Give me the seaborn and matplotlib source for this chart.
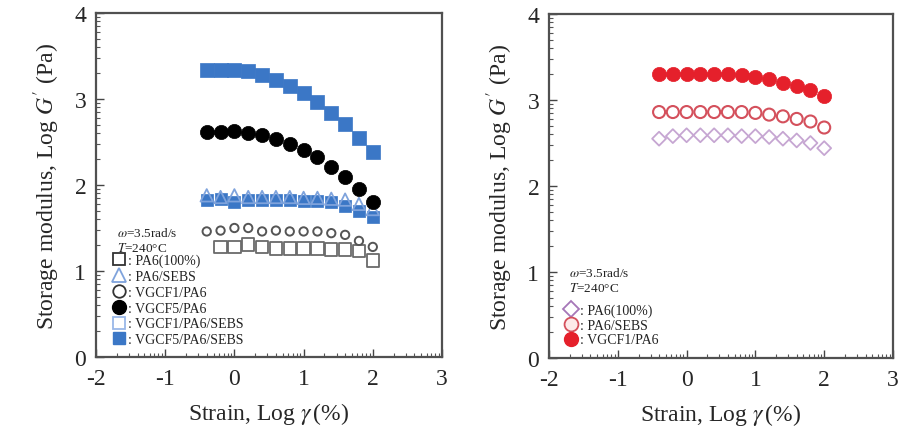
import numpy as np
import matplotlib
matplotlib.use("Agg")
import matplotlib.pyplot as plt
from matplotlib.lines import Line2D
from matplotlib.ticker import FixedLocator
import seaborn as sns

# ---- data ----
strain_log = [-0.4, -0.2, 0.0, 0.2, 0.4, 0.6, 0.8, 1.0, 1.2, 1.4, 1.6, 1.8, 2.0]
strain_log_pa6 = [-0.2, 0.0, 0.2, 0.4, 0.6, 0.8, 1.0, 1.2, 1.4, 1.6, 1.8, 2.0]

# left panel
pa6_100 = [1.28, 1.28, 1.31, 1.28, 1.26, 1.26, 1.26, 1.26, 1.25, 1.25, 1.23, 1.12]
pa6_sebs = [1.88, 1.86, 1.88, 1.86, 1.86, 1.86, 1.86, 1.85, 1.85, 1.84, 1.83, 1.78, 1.72]
vgcf1_pa6 = [1.46, 1.47, 1.50, 1.50, 1.46, 1.47, 1.46, 1.46, 1.46, 1.44, 1.42, 1.35, 1.28]
vgcf5_pa6 = [2.62, 2.62, 2.63, 2.61, 2.58, 2.54, 2.48, 2.41, 2.32, 2.21, 2.09, 1.95, 1.80]
vgcf1_pa6_sebs = [1.82, 1.84, 1.80, 1.83, 1.82, 1.82, 1.82, 1.81, 1.81, 1.80, 1.76, 1.70, 1.63]
vgcf5_pa6_sebs = [3.34, 3.34, 3.34, 3.32, 3.28, 3.22, 3.15, 3.07, 2.96, 2.84, 2.71, 2.55, 2.38]

# right panel
r_pa6_100 = [2.55, 2.58, 2.59, 2.59, 2.59, 2.59, 2.58, 2.58, 2.57, 2.55, 2.53, 2.50, 2.44]
r_pa6_sebs = [2.86, 2.86, 2.86, 2.86, 2.86, 2.86, 2.86, 2.85, 2.83, 2.81, 2.78, 2.75, 2.68]
r_vgcf1_pa6 = [3.30, 3.30, 3.30, 3.30, 3.30, 3.30, 3.29, 3.27, 3.24, 3.20, 3.16, 3.12, 3.05]

x_ticks = [-2, -1, 0, 1, 2, 3]
y_ticks = [0, 1, 2, 3, 4]
x_label = r"Strain, Log $\gamma\,$(%)"
y_label = r"Storage modulus, Log $G'$ (Pa)"
cond_text = [r"$\omega$=3.5rad/s", r"$T$=240°C"]
left_labels = [": PA6(100%)", ": PA6/SEBS", ": VGCF1/PA6", ": VGCF5/PA6",
               ": VGCF1/PA6/SEBS", ": VGCF5/PA6/SEBS"]
right_labels = [": PA6(100%)", ": PA6/SEBS", ": VGCF1/PA6"]

sns.set_theme(style="ticks")
plt.rcParams["font.family"] = ["Liberation Serif", "DejaVu Serif"]
plt.rcParams["mathtext.fontset"] = "stix"

BLUE = "#3b77c6"
LBLUE = "#7fa3dc"
RED = "#e5202b"
PINK = "#d4505c"
PURPLE = "#c6a6d2"

fig = plt.figure(figsize=(9.0, 4.39), dpi=100)
axL = fig.add_axes([96 / 900, 1 - 358 / 439, 346 / 900, 344 / 439])
axR = fig.add_axes([549 / 900, 1 - 359 / 439, 344 / 900, 344 / 439])

# left panel marks
sns.scatterplot(x=strain_log_pa6, y=pa6_100, marker="s", s=80, facecolor="none",
                edgecolor="#6a6a6a", linewidth=1.3, ax=axL)
sns.scatterplot(x=strain_log, y=vgcf1_pa6, marker="o", s=36, facecolor="none",
                edgecolor="#555555", linewidth=1.4, ax=axL)
sns.scatterplot(x=strain_log, y=vgcf1_pa6_sebs, marker="s", s=85, color=BLUE,
                edgecolor=BLUE, linewidth=0.5, ax=axL)
sns.scatterplot(x=strain_log, y=pa6_sebs, marker="^", s=80, facecolor="none",
                edgecolor=LBLUE, linewidth=1.3, ax=axL)
sns.scatterplot(x=strain_log, y=vgcf5_pa6, marker="o", s=105, color="black",
                edgecolor="black", linewidth=0.5, ax=axL)
sns.scatterplot(x=strain_log, y=vgcf5_pa6_sebs, marker="s", s=95, color=BLUE,
                edgecolor=BLUE, linewidth=0.5, ax=axL)

# right panel marks
sns.scatterplot(x=strain_log, y=r_pa6_100, marker="D", s=50, facecolor="none",
                edgecolor=PURPLE, linewidth=1.3, ax=axR)
sns.scatterplot(x=strain_log, y=r_pa6_sebs, marker="o", s=75, facecolor="none",
                edgecolor=PINK, linewidth=1.5, ax=axR)
sns.scatterplot(x=strain_log, y=r_vgcf1_pa6, marker="o", s=105, color=RED,
                edgecolor=RED, linewidth=0.5, ax=axR)

minor_x = [n + np.log10(k) for n in range(-2, 3) for k in range(2, 10)]
minor_y = [n + np.log10(k) for n in range(0, 4) for k in range(2, 10)]

for ax in (axL, axR):
    ax.set_xlim(-2, 3)
    ax.set_ylim(0, 4)
    ax.set_xticks(x_ticks)
    ax.set_yticks(y_ticks)
    ax.set_xticklabels([str(v) for v in x_ticks])
    ax.set_yticklabels([str(v) for v in y_ticks])
    ax.xaxis.set_minor_locator(FixedLocator(minor_x))
    ax.yaxis.set_minor_locator(FixedLocator(minor_y))
    ax.tick_params(axis="both", which="major", direction="in", length=6, width=1.0,
                   labelsize=17, color="#444444")
    ax.tick_params(axis="x", which="major", pad=8)
    ax.tick_params(axis="y", which="major", pad=7)
    ax.tick_params(axis="both", which="minor", direction="in", length=3, width=0.8,
                   color="#555555")
    ax.tick_params(top=False, right=False, which="both")
    for sp in ax.spines.values():
        sp.set_visible(True)
        sp.set_linewidth(1.6)
        sp.set_color("#505050")
    ax.set_xlabel(x_label, fontsize=17, labelpad=8)
    ax.set_ylabel(y_label, fontsize=17, labelpad=9)
    ax.set_facecolor("white")

# condition text
axL.text(0.062, 0.362, cond_text[0], transform=axL.transAxes, fontsize=9.5,
         va="center", ha="left", color="#222222")
axL.text(0.062, 0.318, cond_text[1], transform=axL.transAxes, fontsize=9.5,
         va="center", ha="left", color="#222222")
axR.text(0.058, 0.249, cond_text[0], transform=axR.transAxes, fontsize=9.5,
         va="center", ha="left", color="#222222")
axR.text(0.058, 0.206, cond_text[1], transform=axR.transAxes, fontsize=9.5,
         va="center", ha="left", color="#222222")

# legends
hL = [
    Line2D([], [], ls="none", marker="s", ms=9, mfc="none", mec="#333333", mew=1.3),
    Line2D([], [], ls="none", marker="^", ms=10, mfc="none", mec=LBLUE, mew=1.3),
    Line2D([], [], ls="none", marker="o", ms=9, mfc="none", mec="#333333", mew=1.3),
    Line2D([], [], ls="none", marker="o", ms=10, mfc="black", mec="black"),
    Line2D([], [], ls="none", marker="s", ms=9, mfc="none", mec="#9ab8e8", mew=1.3),
    Line2D([], [], ls="none", marker="s", ms=9, mfc=BLUE, mec=BLUE),
]
legL = axL.legend(hL, left_labels, loc="upper left", bbox_to_anchor=(0.045, 0.300),
                  frameon=False, fontsize=10, handlelength=1.0, handletextpad=0.15,
                  labelspacing=0.2, borderpad=0, borderaxespad=0)
for t in legL.get_texts():
    t.set_color("#222222")

hR = [
    Line2D([], [], ls="none", marker="D", ms=8, mfc="none", mec="#a677b8", mew=1.3),
    Line2D([], [], ls="none", marker="o", ms=10, mfc="#fde9e9", mec=PINK, mew=1.3),
    Line2D([], [], ls="none", marker="o", ms=10, mfc=RED, mec=RED),
]
legR = axR.legend(hR, right_labels, loc="upper left", bbox_to_anchor=(0.045, 0.158),
                  frameon=False, fontsize=10, handlelength=1.0, handletextpad=0.15,
                  labelspacing=0.12, borderpad=0, borderaxespad=0)
for t in legR.get_texts():
    t.set_color("#222222")

fig.savefig("out.png", dpi=100, facecolor="white")
